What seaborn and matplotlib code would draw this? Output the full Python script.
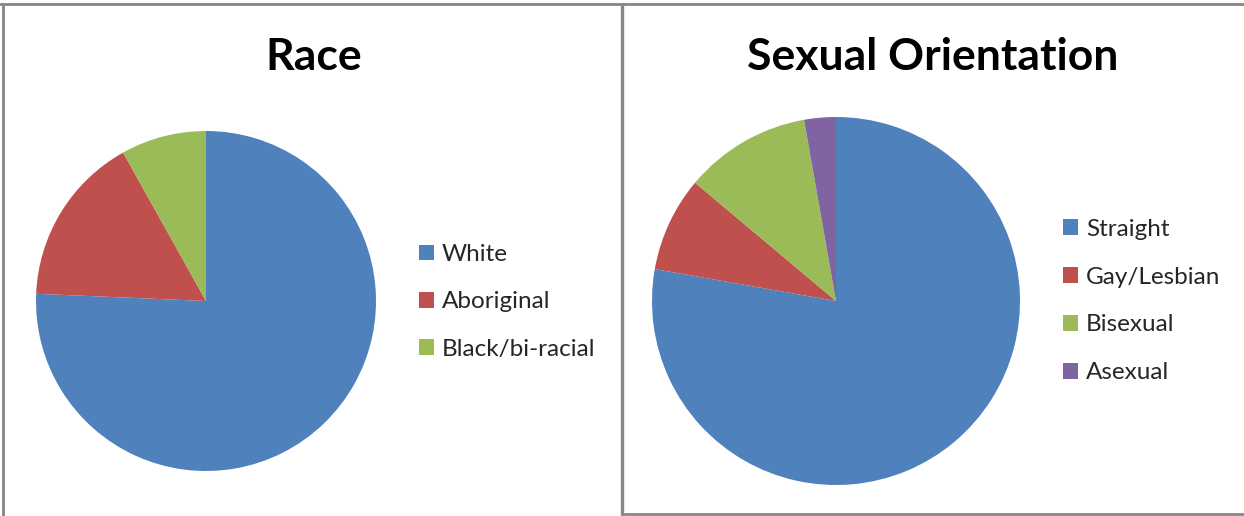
import matplotlib
matplotlib.use("Agg")
import matplotlib.pyplot as plt
import seaborn as sns
from matplotlib.lines import Line2D

# ---- data ----
race_labels = ["White", "Aboriginal", "Black/bi-racial"]
race_values = [28, 6, 3]
orient_labels = ["Straight", "Gay/Lesbian", "Bisexual", "Asexual"]
orient_values = [28, 3, 4, 1]
palette = ["#4F81BD", "#C0504D", "#9BBB59", "#8064A2"]

sns.set_theme(style="white")
plt.rcParams["font.family"] = ["Lato", "DejaVu Sans"]

W, H = 1244, 516
fig = plt.figure(figsize=(W / 100, H / 100), dpi=100)
fig.patch.set_facecolor("white")


def px_axes(cx, cy, r):
    return fig.add_axes([(cx - r) / W, (H - cy - r) / H, 2 * r / W, 2 * r / H])


def draw_pie(ax, values, colors):
    wedges, _ = ax.pie(values, colors=colors, startangle=90, counterclock=False,
                       radius=1.0, wedgeprops=dict(linewidth=0))
    ax.set_xlim(-1.0, 1.0)
    ax.set_ylim(-1.0, 1.0)
    ax.set_aspect("equal")
    ax.axis("off")
    return wedges


ax1 = px_axes(206, 301, 170)
w1 = draw_pie(ax1, race_values, palette[:3])
ax2 = px_axes(836, 301, 184)
w2 = draw_pie(ax2, orient_values, palette[:4])

# titles
fig.text(314 / W, 1 - 57 / H, "Race", ha="center", va="center",
         fontsize=32, fontweight="bold", color="black")
fig.text(933 / W, 1 - 57 / H, "Sexual Orientation", ha="center", va="center",
         fontsize=32, fontweight="bold", color="black")

# legends
leg_kw = dict(frameon=False, loc="center left", fontsize=17.5,
              handlelength=0.6, handleheight=0.6, handletextpad=0.35,
              borderaxespad=0, borderpad=0)
fig.legend(w1, race_labels, bbox_to_anchor=(419 / W, 1 - 302 / H),
           labelspacing=1.08, **leg_kw)
fig.legend(w2, orient_labels, bbox_to_anchor=(1063 / W, 1 - 301 / H),
           labelspacing=1.11, **leg_kw)

# panel borders
gc = "#868686"
def line(x0, y0, x1, y1, lw=2.0):
    fig.add_artist(Line2D([x0 / W, x1 / W], [1 - y0 / H, 1 - y1 / H],
                          color=gc, linewidth=lw, transform=fig.transFigure))

line(0, 4, W, 4)            # top
line(3, 4, 3, H + 2)        # left edge of left panel
line(622.3, 4, 622.3, 514, lw=2.4)   # middle divider
line(622, 513.5, W, 513.5)  # bottom of right panel

fig.savefig("out.png", dpi=100)
